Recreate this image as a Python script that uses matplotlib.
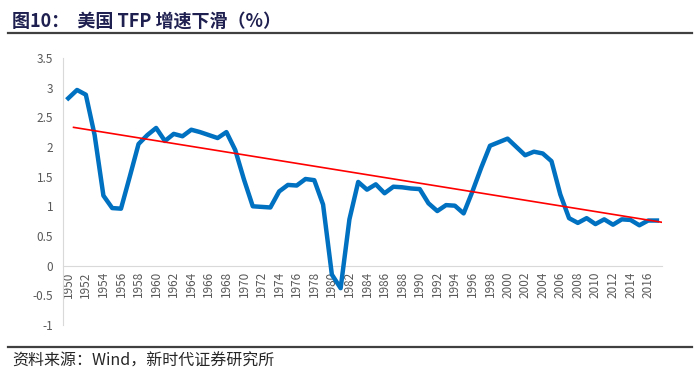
import matplotlib.pyplot as plt
from matplotlib.lines import Line2D

plt.rcParams['font.family'] = ['Noto Sans CJK SC', 'DejaVu Sans']

# US TFP growth, %
years = list(range(1950, 2018))
tfp = [2.82, 2.96, 2.88, 2.20, 1.18, 0.97, 0.96, 1.50, 2.05, 2.20,
       2.32, 2.10, 2.22, 2.18, 2.29, 2.25, 2.20, 2.15, 2.25, 1.95,
       1.45, 1.00, 0.99, 0.98, 1.25, 1.36, 1.35, 1.46, 1.44, 1.03,
       -0.15, -0.38, 0.78, 1.41, 1.28, 1.37, 1.22, 1.33, 1.32, 1.30,
       1.29, 1.05, 0.92, 1.02, 1.01, 0.88, 1.25, 1.65, 2.02, 2.08,
       2.14, 2.00, 1.86, 1.92, 1.89, 1.76, 1.20, 0.80, 0.72, 0.80,
       0.70, 0.78, 0.69, 0.78, 0.77, 0.68, 0.76, 0.76]

# linear trend line endpoints
trend_years = [1950.6, 2017.6]
trend_vals = [2.33, 0.73]

yticks = [-1, -0.5, 0, 0.5, 1, 1.5, 2, 2.5, 3, 3.5]
ytick_labels = ['-1', '-0.5', '0', '0.5', '1', '1.5', '2', '2.5', '3', '3.5']

fig = plt.figure(figsize=(7, 3.81), dpi=100)
ax = fig.add_axes([0.09, 0.147, 0.856, 0.701])

ax.plot(years, tfp, color='#0070C0', lw=3.2, solid_joinstyle='round', zorder=3)
ax.plot(trend_years, trend_vals, color='#FF0000', lw=1.2, zorder=4)

for s in ['top', 'right']:
    ax.spines[s].set_visible(False)
ax.spines['left'].set_color('#D9D9D9')
ax.spines['bottom'].set_color('#D9D9D9')
ax.spines['bottom'].set_position(('data', 0))

ax.set_xlim(1949.4, 2017.6)
ax.set_ylim(-1, 3.5)
ax.set_yticks(yticks)
ax.set_yticklabels(ytick_labels)
ax.set_xticks(years[::2])
ax.set_xticklabels([str(y) for y in years[::2]])
ax.tick_params(axis='both', length=0, labelsize=8.5, colors='#595959')
ax.tick_params(axis='y', pad=7)
ax.tick_params(axis='x', pad=4, labelrotation=90)

# title and source with rule lines
fig.text(0.017, 0.945, '图10：  美国 TFP 增速下滑（%）', fontsize=13,
         fontweight='bold', color='#1F2050', va='center')
fig.add_artist(Line2D([0.012, 0.988], [0.913, 0.913], color='#404040', lw=1.6))
fig.add_artist(Line2D([0.012, 0.988], [0.09, 0.09], color='#404040', lw=1.6))
fig.text(0.017, 0.052, '资料来源：Wind，新时代证券研究所', fontsize=11.5,
         color='#262626', va='center')

fig.savefig('out.png', dpi=100)
